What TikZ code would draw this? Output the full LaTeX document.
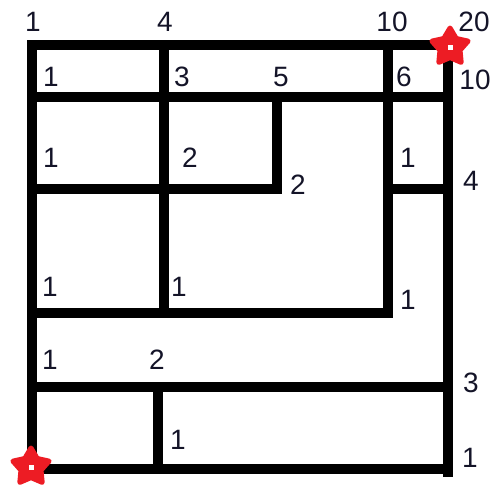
\documentclass[tikz,border=0pt]{standalone}
\usepackage{fontspec}
\setmainfont{Liberation Sans}
\definecolor{mred}{RGB}{237,28,36}
\definecolor{mink}{RGB}{20,20,40}
\usetikzlibrary{shapes.geometric}
\tikzset{
  wall/.style={line width=10pt,draw=black,line cap=rect,line join=miter},
  num/.style={inner sep=0pt,text=mink,font=\fontsize{28}{30}\selectfont},
  redstar/.style={star,star points=5,star point ratio=1.8,minimum size=38pt,
    fill=mred,draw=mred,line width=5pt,line join=round,inner sep=0pt},
}

\begin{document}
\begin{tikzpicture}[x=1pt,y=-1pt]
  \useasboundingbox (0,0) rectangle (494,490);

  \draw[wall] (32,45) -- (440,45);
  \draw[wall] (32,45) -- (32,469);
  \draw[wall] (448,62) -- (448,472);
  \draw[wall] (32,469) -- (448,469);
  \draw[wall] (32,97) -- (448,97);
  \draw[wall] (164,45) -- (164,313);
  \draw[wall] (388,45) -- (388,313) -- (32,313);
  \draw[wall] (32,189) -- (277,189) -- (277,97);
  \draw[wall] (388,189) -- (448,189);
  \draw[wall] (32,387) -- (448,387);
  \draw[wall] (158,387) -- (158,469);

  \node[redstar] (goal) at (450,47) {};
  \node[redstar] (start) at (31,467) {};
  \fill[white] (447.5,44.5) rectangle (452.5,49.5);
  \fill[white] (28.5,464.5) rectangle (33.5,469.5);

  \node[num] (ta) at (33,22) {1};
  \node[num] (tb) at (165,22) {4};
  \node[num] (tc) at (392,22) {10};
  \node[num] (td) at (474,22) {20};
  \node[num] (ra) at (51,77) {1};
  \node[num] (rb) at (182,77) {3};
  \node[num] (rc) at (281,77) {5};
  \node[num] (rd) at (404,77) {6};
  \node[num] (re) at (475,80) {10};
  \node[num] (sa) at (51,158) {1};
  \node[num] (sb) at (190,158) {2};
  \node[num] (sc) at (298,185) {2};
  \node[num] (sd) at (408,158) {1};
  \node[num] (se) at (471,181) {4};
  \node[num] (ua) at (50,287) {1};
  \node[num] (ub) at (179,287) {1};
  \node[num] (uc) at (408,300) {1};
  \node[num] (va) at (50,360) {1};
  \node[num] (vb) at (157,360) {2};
  \node[num] (vc) at (471,383) {3};
  \node[num] (wa) at (178,440) {1};
  \node[num] (wb) at (470,458) {1};
\end{tikzpicture}
\end{document}
